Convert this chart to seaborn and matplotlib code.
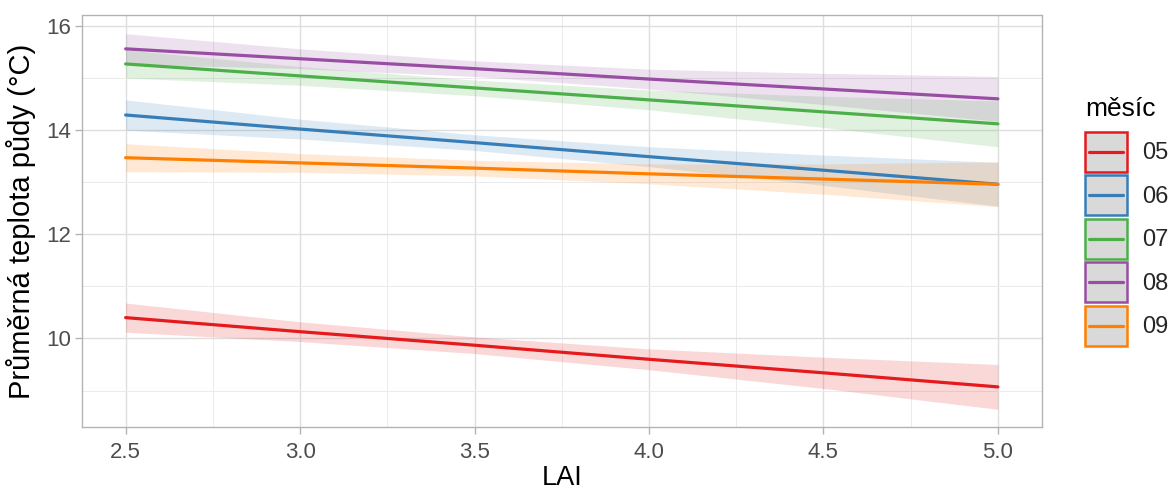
import numpy as np
import pandas as pd
import seaborn as sns
import matplotlib
matplotlib.use("Agg")
import matplotlib.pyplot as plt
from matplotlib.patches import Rectangle
from matplotlib.lines import Line2D
from matplotlib.legend_handler import HandlerBase

# ---- data ----
lai = [2.5, 3.0, 3.5, 4.0, 4.5, 5.0]
months = ["05", "06", "07", "08", "09"]
fit_05 = [10.40, 10.13, 9.87, 9.60, 9.34, 9.07]
fit_06 = [14.29, 14.02, 13.76, 13.49, 13.23, 12.96]
fit_07 = [15.27, 15.04, 14.81, 14.58, 14.35, 14.12]
fit_08 = [15.56, 15.37, 15.18, 14.98, 14.79, 14.60]
fit_09 = [13.47, 13.37, 13.27, 13.16, 13.06, 12.96]
hw_05 = [0.28, 0.19, 0.16, 0.20, 0.30, 0.43]
hw_06 = [0.29, 0.19, 0.15, 0.19, 0.29, 0.42]
hw_07 = [0.27, 0.18, 0.15, 0.19, 0.30, 0.44]
hw_08 = [0.29, 0.19, 0.15, 0.19, 0.30, 0.43]
hw_09 = [0.27, 0.18, 0.15, 0.19, 0.29, 0.43]
colors = ["#E41A1C", "#377EB8", "#4DAF4A", "#984EA3", "#FF7F00"]

fits = [fit_05, fit_06, fit_07, fit_08, fit_09]
hws = [hw_05, hw_06, hw_07, hw_08, hw_09]
rows = []
for m, f, h in zip(months, fits, hws):
    for x, y, w in zip(lai, f, h):
        rows.append({"LAI": x, "fit": y, "lo": y - w, "hi": y + w, "mesic": m})
df = pd.DataFrame(rows)

sns.set_theme(style="white")
plt.rcParams["font.family"] = ["Liberation Sans", "DejaVu Sans"]

W, H = 1168, 490
fig = plt.figure(figsize=(W / 100, H / 100), dpi=100)
ax = fig.add_axes([82 / W, 1 - 427 / H, (1041.5 - 82) / W, (427 - 15.5) / H])

palette = dict(zip(months, colors))
for m in months:
    d = df[df.mesic == m]
    ax.fill_between(d.LAI, d.lo, d.hi, color=palette[m], alpha=0.17, linewidth=0, zorder=2)
sns.lineplot(data=df, x="LAI", y="fit", hue="mesic", palette=palette, linewidth=2.3,
             legend=False, ax=ax, zorder=3)

ax.set_xlim(2.375, 5.125)
ax.set_ylim(8.30, 16.20)
ax.set_xticks([2.5, 3.0, 3.5, 4.0, 4.5, 5.0])
ax.set_xticklabels(["2.5", "3.0", "3.5", "4.0", "4.5", "5.0"])
ax.set_yticks([10, 12, 14, 16])
ax.set_xticks([2.75, 3.25, 3.75, 4.25, 4.75], minor=True)
ax.set_yticks([9, 11, 13, 15], minor=True)
ax.grid(which="major", color="#DEDEDE", linewidth=1.0, zorder=0)
ax.grid(which="minor", color="#EBEBEB", linewidth=0.7, zorder=0)
ax.set_axisbelow(True)
for s in ax.spines.values():
    s.set_color("#B3B3B3")
    s.set_linewidth(1.0)
ax.tick_params(which="major", length=5, width=1.0, color="#B3B3B3",
               labelsize=16, labelcolor="#4D4D4D", pad=3, bottom=True, left=True)
ax.tick_params(axis="x", which="major", pad=5.5)
ax.tick_params(which="minor", length=0)
ax.set_xlabel("LAI", fontsize=19.5, color="black", labelpad=2)
ax.set_ylabel("Průměrná teplota půdy (°C)", fontsize=21, color="black", labelpad=7)


class KeyHandler(HandlerBase):
    def create_artists(self, legend, orig_handle, xdescent, ydescent,
                       width, height, fontsize, trans):
        c = orig_handle.get_color()
        x0, y0 = -xdescent, -ydescent
        r = Rectangle((x0, y0), width, height, facecolor="#D9D9D9",
                      edgecolor=c, linewidth=1.8, transform=trans)
        ln = Line2D([x0 + 3, x0 + width - 3], [y0 + height / 2] * 2,
                    color=c, linewidth=2.3, transform=trans)
        return [r, ln]


handles = [Line2D([0], [0], color=palette[m]) for m in months]
fig.text(1085 / W, 1 - 116 / H, "měsíc", fontsize=19, color="black",
         ha="left", va="baseline")
leg = fig.legend(handles, months, loc="upper left",
                 bbox_to_anchor=(1085 / W, 1 - 132 / H),
                 handler_map={Line2D: KeyHandler()},
                 frameon=False, fontsize=17,
                 handlelength=1.78, handleheight=2.23, labelspacing=0.144,
                 handletextpad=0.62, borderaxespad=0, borderpad=0.0)

fig.savefig("out.png", dpi=100)
